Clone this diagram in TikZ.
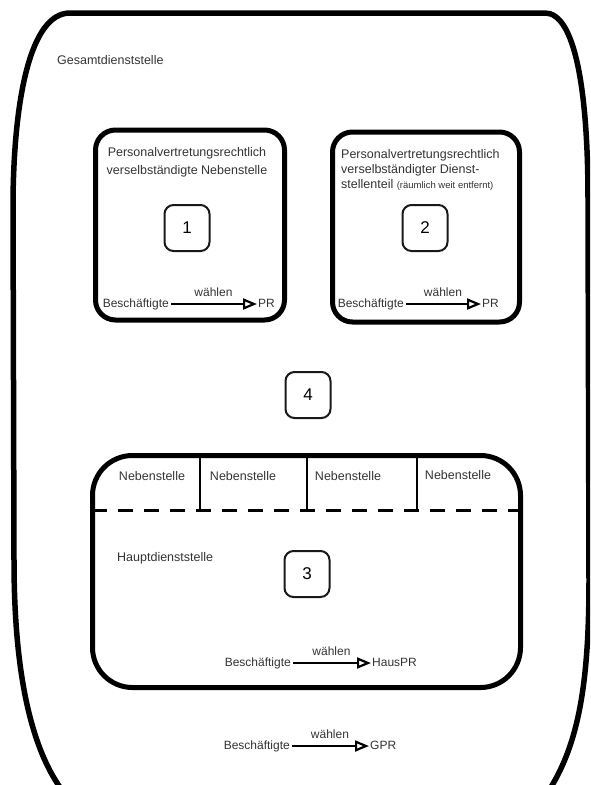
\documentclass[tikz,border=0pt]{standalone}
\usepackage{fontspec}
\setmainfont{Liberation Sans}
\usetikzlibrary{arrows.meta}

\begin{document}
\begin{tikzpicture}[
    x=1pt, y=-1pt,
    txt/.style={inner sep=0pt, text=black!80, font=\fontsize{12.5}{15}\selectfont},
    rowtxt/.style={txt, font=\fontsize{12}{14}\selectfont, text height=9pt, text depth=3pt},
    bigbox/.style={rectangle, draw=black, line width=5pt, rounded corners=20pt},
    numbox/.style={rectangle, draw=black!90, line width=2pt, rounded corners=9pt, minimum width=45pt, minimum height=46pt, font=\fontsize{17}{20}\selectfont},
    wahl/.style={-{Triangle[open, length=14pt, width=11pt]}, line width=2.2pt, shorten <=2pt, shorten >=1pt},
    sepline/.style={line width=3pt, dash pattern=on 15pt off 11pt}
]
\useasboundingbox (0,0) rectangle (590,785);
\clip (0,0) rectangle (590,785);

% Gesamtdienststelle (outer frame)
\draw[line width=5.5pt] (80,810) .. controls (40,775) and (14,700) .. (14,560) -- (13,200)
    .. controls (14,100) and (30,13) .. (70,13) -- (545,13)
    .. controls (575,13) and (588,90) .. (588,200) -- (589,580)
    .. controls (589,700) and (575,760) .. (535,810);
\node[txt, anchor=west] (gesamt) at (57,60) {Gesamtdienststelle};

% Box 1: verselbstaendigte Nebenstelle
\node[bigbox, minimum width=189pt, minimum height=190pt] (box1) at (190,225) {};
\node[txt, align=center, font=\fontsize{12.5}{18}\selectfont] (title1) at (187,162) {Personalvertretungsrechtlich\\verselbständigte Nebenstelle};
\node[numbox] (num1) at (187,228) {1};
\node[rowtxt, anchor=east] (besch1) at (169,304) {Beschäftigte};
\node[rowtxt, anchor=west] (pr1) at (258,304) {PR};
\draw[wahl] (besch1.east) -- node[rowtxt, above=3pt] (wahl1) {wählen} (pr1.west);

% Box 2: verselbstaendigter Dienststellenteil
\node[bigbox, minimum width=187pt, minimum height=190pt] (box2) at (426,227) {};
\node[txt, align=left, anchor=west] (title2) at (341,170) {Personalvertretungsrechtlich\\verselbständigter Dienst-\\stellenteil {\fontsize{9.5}{10}\selectfont(räumlich weit entfernt)}};
\node[numbox] (num2) at (425,228) {2};
\node[rowtxt, anchor=east] (besch2) at (404,304) {Beschäftigte};
\node[rowtxt, anchor=west] (pr2) at (482,304) {PR};
\draw[wahl] (besch2.east) -- node[rowtxt, above=3pt] (wahl2) {wählen} (pr2.west);

% Box 4
\node[numbox] (num4) at (308,395) {4};

% Box 3: Hauptdienststelle with Nebenstellen
\node[bigbox, rounded corners=40pt, minimum width=428pt, minimum height=232pt] (box3) at (306.5,571.5) {};
\draw[sepline] (92,510) -- (521,510);
\draw[line width=2.2pt] (200,455) -- (200,510);
\draw[line width=2.2pt] (307,455) -- (307,510);
\draw[line width=2.2pt] (417,455) -- (417,510);
\node[txt] (nebena) at (152,476) {Nebenstelle};
\node[txt] (nebenb) at (243,476) {Nebenstelle};
\node[txt] (nebenc) at (348,476) {Nebenstelle};
\node[txt] (nebend) at (458,475) {Nebenstelle};
\node[txt, anchor=west] (haupt) at (117,558) {Hauptdienststelle};
\node[numbox] (num3) at (307,574) {3};
\node[rowtxt, anchor=east] (besch3) at (291,663) {Beschäftigte};
\node[rowtxt, anchor=west] (pr3) at (372,663) {HausPR};
\draw[wahl] (besch3.east) -- node[rowtxt, above=3pt] (wahl3) {wählen} (pr3.west);

% Gesamtpersonalrat
\node[rowtxt, anchor=east] (besch4) at (290,746) {Beschäftigte};
\node[rowtxt, anchor=west] (pr4) at (370,746) {GPR};
\draw[wahl] (besch4.east) -- node[rowtxt, above=3pt] (wahl4) {wählen} (pr4.west);

\end{tikzpicture}
\end{document}
